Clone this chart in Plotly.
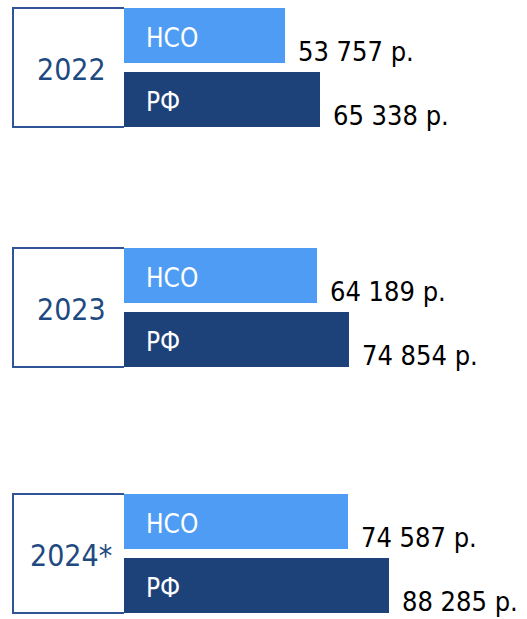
import plotly.graph_objects as go

# Data
years = ["2022", "2023", "2024*"]
nso_values = [53757, 64189, 74587]
rf_values = [65338, 74854, 88285]
series_names = ["НСО", "РФ"]

# Styling / layout constants
W, H = 527, 619
NSO_COLOR = "#4F9CF5"
RF_COLOR = "#1D4279"
BOX_COLOR = "#2F5597"
YEAR_COLOR = "#1F4A80"
FONT = "DejaVu Sans Condensed, DejaVu Sans, sans-serif"

group_tops = [8, 248, 494]     # pixel top of each year block
bar_h = 55
bar_gap = 9
box_left = 13
bar_left = 124
year_center_x = 71
px_per_unit = 0.003003         # horizontal scale of the value axis

def fmt(v):
    return f"{v:,}".replace(",", " ") + " р."

nso_y = [t + bar_h / 2 for t in group_tops]
rf_y = [t + bar_h + bar_gap + bar_h / 2 for t in group_tops]

fig = go.Figure()
for name, vals, ys, color in [
    (series_names[0], nso_values, nso_y, NSO_COLOR),
    (series_names[1], rf_values, rf_y, RF_COLOR),
]:
    fig.add_trace(go.Bar(
        x=vals, y=ys, orientation="h", width=bar_h,
        marker=dict(color=color, line=dict(width=0)),
        name=name, showlegend=False, hoverinfo="skip",
    ))

annotations = []
shapes = []
for i, year in enumerate(years):
    top = group_tops[i]
    bottom = top + 2 * bar_h + bar_gap
    # open box (left, top, bottom edges) around the year label
    x0 = box_left / W
    x1 = bar_left / W
    shapes.append(dict(
        type="path", xref="paper", yref="y",
        path=f"M {x1},{top} L {x0},{top} L {x0},{bottom} L {x1},{bottom}",
        line=dict(color=BOX_COLOR, width=2), layer="below",
    ))
    annotations.append(dict(
        x=year_center_x / W, xref="paper",
        y=(top + bottom) / 2 + 2, yref="y",
        text=year, showarrow=False, xanchor="center", yanchor="middle",
        font=dict(family=FONT, size=30, color=YEAR_COLOR),
    ))
    for name, vals, ys in [(series_names[0], nso_values, nso_y),
                           (series_names[1], rf_values, rf_y)]:
        # series name inside the bar
        annotations.append(dict(
            x=0, y=ys[i] + 2, xref="x", yref="y", text=name, showarrow=False,
            xanchor="left", yanchor="middle", xshift=20,
            font=dict(family=FONT, size=26, color="white"),
        ))
        # value label right of the bar end, slightly below
        annotations.append(dict(
            x=vals[i], y=ys[i], xref="x", yref="y", text=fmt(vals[i]),
            showarrow=False, xanchor="left", yanchor="middle",
            xshift=12, yshift=-16, borderpad=0,
            font=dict(family=FONT, size=27, color="black"),
        ))

x_min = -bar_left / px_per_unit
x_max = (W - bar_left) / px_per_unit

fig.update_layout(
    width=W, height=H,
    margin=dict(l=0, r=0, t=0, b=0),
    paper_bgcolor="white", plot_bgcolor="white",
    xaxis=dict(range=[x_min, x_max], visible=False, fixedrange=True),
    yaxis=dict(range=[H, 0], visible=False, fixedrange=True),
    shapes=shapes, annotations=annotations,
    bargap=0,
)

fig.write_html("out.html")
